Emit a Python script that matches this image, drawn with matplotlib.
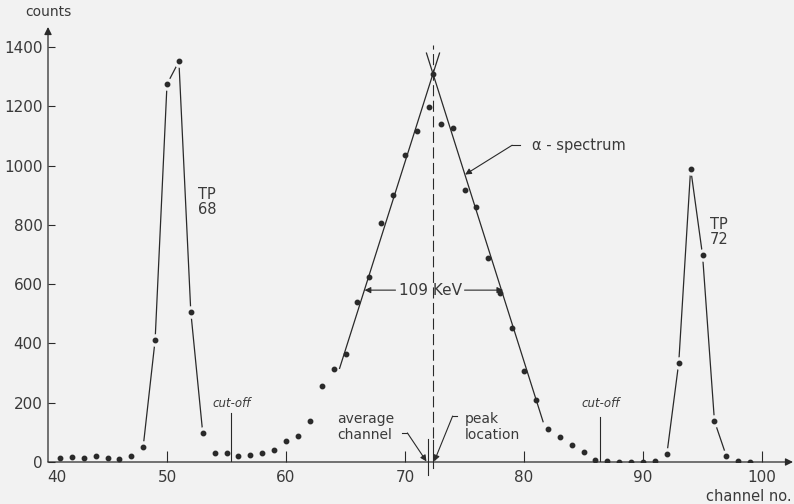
import numpy as np
import matplotlib.pyplot as plt

# counts per channel
ch_left = list(range(41, 59))
counts_left = [12, 16, 12, 21, 12, 10, 21, 52, 411, 1275, 1352, 506, 99, 31, 30, 21, 25, 31]
ch_mid = list(range(59, 82))
counts_mid = [39, 71, 89, 140, 255, 315, 364, 541, 624, 807, 900, 1037, 1117, 1198,
              1140, 1126, 918, 862, 690, 569, 453, 308, 209]
ch_right = list(range(82, 100))
counts_right = [113, 84, 57, 34, 6, 5, 0, 0, 0, 2, 26, 335, 990, 698, 138, 20, 2, 0]

# peaks drawn as connected points
tp68_ch = list(range(48, 54))
tp72_ch = list(range(92, 98))

# straight lines fitted to the alpha peak
fit_left_ch = [64.5, 72.9]
fit_left_counts = [316, 1380]
fit_right_ch = [71.8, 81.6]
fit_right_counts = [1380, 136]
peak_ch, peak_counts = 72.35, 1310
avg_ch = 71.95
cutoff_ch = [55.4, 86.4]
cutoff_top = [165, 151]

ink = '#2a2a2a'
tc = '#3a3a3a'
bg = '#f2f2f2'

ch_all = ch_left + ch_mid + ch_right
counts_all = counts_left + counts_mid + counts_right
lookup = dict(zip(ch_all, counts_all))

fig = plt.figure(figsize=(7.94, 5.04), dpi=100, facecolor=bg)
ax = fig.add_axes([48/794, 42/504, 745/794, 435/504], facecolor=bg)
ax.set_xlim(40, 102.6)
ax.set_ylim(0, 1468)

# peak polylines with small gaps at the dots
for chs in (tp68_ch, tp72_ch):
    ys = [lookup[c] for c in chs]
    ax.plot(chs, ys, color=ink, lw=0.9, zorder=1)
    ax.plot(chs, ys, ls='none', marker='o', ms=8, mfc=bg, mec=bg, zorder=2)

# fitted lines
ax.plot(fit_left_ch, fit_left_counts, color=ink, lw=0.9, zorder=3)
ax.plot(fit_right_ch, fit_right_counts, color=ink, lw=0.9, zorder=3)

# data points
ax.plot(ch_all, counts_all, ls='none', marker='o', ms=3.2, color=ink, zorder=4)
ax.plot([peak_ch], [peak_counts], ls='none', marker='o', ms=3.2, color=ink, zorder=4)

# peak location (dashed) and average channel
ax.plot([peak_ch, peak_ch], [80, 1407], color=ink, lw=0.8, ls=(0, (10, 4)), zorder=2)
ax.plot([peak_ch, peak_ch], [-20, 74], color=ink, lw=0.8, clip_on=False)
ax.plot([avg_ch, avg_ch], [-44, 78], color=ink, lw=0.8, clip_on=False)

# axes with arrows
for s in ax.spines.values():
    s.set_visible(False)
ap = dict(arrowstyle='-|>', lw=0.9, color=ink, mutation_scale=11, shrinkA=0, shrinkB=0)
ax.annotate('', xy=(102.6, 0), xytext=(40, 0), arrowprops=ap, annotation_clip=False)
ax.annotate('', xy=(40, 1468), xytext=(40, 0), arrowprops=ap, annotation_clip=False)

ax.set_xticks(range(50, 101, 10))
ax.set_yticks(range(0, 1401, 200))
ax.tick_params(axis='x', direction='in', length=8, width=0.8, color=ink, pad=6,
               labelsize=11, labelcolor=tc)
ax.tick_params(axis='y', direction='in', length=5, width=0.8, color=ink, pad=4,
               labelsize=11, labelcolor=tc)
ax.text(40.75, -52, '40', ha='center', va='center', fontsize=11, color=tc)
ax.text(40, 1519, 'counts', ha='center', va='center', fontsize=10, color=tc)
ax.text(98.9, -116, 'channel no.', ha='center', va='center', fontsize=10.5, color=tc)

txt = dict(color=tc, fontsize=10.5)
ax.text(52.6, 879, 'TP\n68', ha='left', va='center', linespacing=1.0, **txt)
ax.text(95.6, 776, 'TP\n72', ha='left', va='center', linespacing=1.0, **txt)

# cut-offs
for c, top in zip(cutoff_ch, cutoff_top):
    ax.plot([c, c], [0, top], color=ink, lw=0.8)
    ax.text(c, 199, 'cut-off', ha='center', va='center', fontsize=8.5, style='italic', color=tc)

# FWHM
small = dict(arrowstyle='-|>', lw=0.8, color=ink, mutation_scale=9, shrinkA=0, shrinkB=0)
ax.text(72.1, 580, '109 KeV', ha='center', va='center', fontsize=11, color=tc)
ax.annotate('', xy=(66.6, 580), xytext=(69.2, 580), arrowprops=small)
ax.annotate('', xy=(78.25, 580), xytext=(75.0, 580), arrowprops=small)

# alpha spectrum label
ax.text(80.7, 1069, 'α - spectrum', ha='left', va='center', fontsize=10.5, color=tc)
ax.plot([79.7, 79.0], [1069, 1069], color=ink, lw=0.8)
ax.annotate('', xy=(75.05, 970), xytext=(79.0, 1069), arrowprops=small)

# average channel / peak location labels
ax.text(64.3, 118, 'average\nchannel', ha='left', va='center', linespacing=1.15, fontsize=10, color=tc)
ax.plot([69.75, 70.2], [98, 98], color=ink, lw=0.8)
ax.annotate('', xy=(71.8, 2), xytext=(70.2, 98), arrowprops=small, annotation_clip=False)
ax.text(75.0, 118, 'peak\nlocation', ha='left', va='center', linespacing=1.15, fontsize=10, color=tc)
ax.plot([74.4, 74.0], [155, 155], color=ink, lw=0.8)
ax.annotate('', xy=(72.45, 2), xytext=(74.0, 155), arrowprops=small, annotation_clip=False)

fig.savefig('out.png', dpi=100, facecolor=bg)
